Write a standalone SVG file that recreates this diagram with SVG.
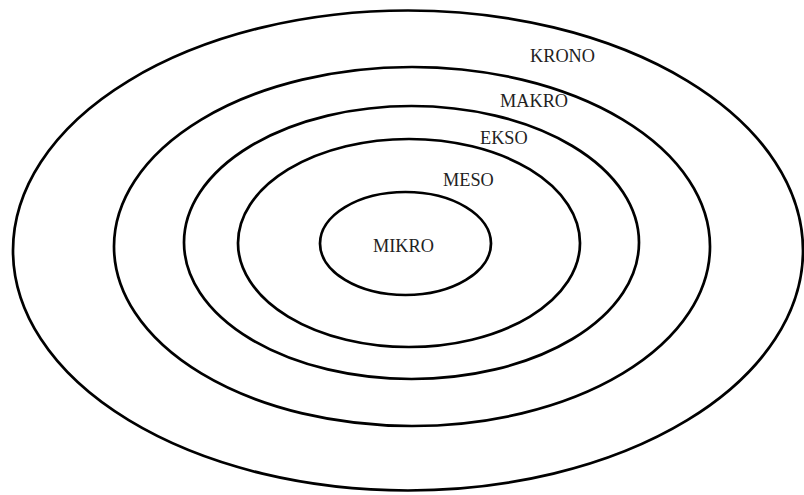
<svg xmlns="http://www.w3.org/2000/svg" width="804" height="495" viewBox="0 0 804 495">
<style>
.ring{fill:none;stroke:#000;stroke-width:2.7}
.lbl{font-family:"Liberation Serif","Times New Roman",serif;font-size:18.3px;fill:#222}
</style>
<rect width="804" height="495" fill="#fff"/>
<g id="krono">
<ellipse class="ring" cx="408" cy="250.5" rx="395" ry="240"/>
<text class="lbl" x="530" y="62">KRONO</text>
</g>
<g id="makro">
<ellipse class="ring" cx="412" cy="246.5" rx="298" ry="179.5"/>
<text class="lbl" x="500" y="107">MAKRO</text>
</g>
<g id="ekso">
<ellipse class="ring" cx="411.5" cy="242.5" rx="227.5" ry="136.5"/>
<text class="lbl" x="480" y="144">EKSO</text>
</g>
<g id="meso">
<ellipse class="ring" cx="409" cy="243" rx="171" ry="104"/>
<text class="lbl" x="443" y="186">MESO</text>
</g>
<g id="mikro">
<ellipse class="ring" cx="405.5" cy="243.5" rx="85.5" ry="51.5"/>
<text class="lbl" x="373" y="252">MIKRO</text>
</g>
<g id="connectors"/>
</svg>
